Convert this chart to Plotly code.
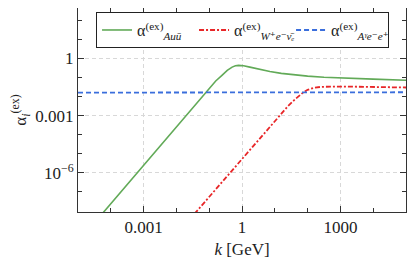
import plotly.graph_objects as go

# ---- data ----
k_green = [5e-5, 1e-3, 1e-2, 0.076, 0.158, 0.245, 0.355, 0.50, 0.63, 0.79, 1.12,
           1.74, 2.82, 4.07, 7.08, 15.8, 39.8, 100, 316, 1000, 1e4, 1e5]
a_green = [6.0e-9, 2.5e-6, 2.5e-4, 0.0158, 0.066, 0.132, 0.24, 0.355, 0.417, 0.437, 0.417,
           0.355, 0.288, 0.251, 0.209, 0.166, 0.138, 0.120, 0.105, 0.0955, 0.083, 0.0724]

k_red = [0.0355, 1, 3.51, 10, 25.1, 40.7, 70.8, 100, 158, 251, 631, 3162, 15849, 1e5]
a_red = [7.1e-9, 5.6e-6, 7.1e-5, 5.2e-4, 3.16e-3, 7.1e-3, 0.0158, 0.0229, 0.0295,
         0.0324, 0.0339, 0.0331, 0.0316, 0.0302]

k_blue = [1e-5, 1, 1e5]
a_blue = [0.0163, 0.0166, 0.0170]

names = ["α<sup>(ex)</sup><sub><i>Auū</i></sub>",
         "α<sup>(ex)</sup><sub><i>W⁺e⁻ν̄ₑ</i></sub>",
         "α<sup>(ex)</sup><sub><i>Aᵞe⁻e⁺</i></sub>"]

x_major = [1e-3, 1, 1e3]
x_major_text = ["0.001", "1", "1000"]
x_minor = [1e-5, 1e-4, 1e-2, 1e-1, 10, 100, 1e4, 1e5]
y_major = [1e-6, 1e-3, 1]
y_major_text = ["10<sup>−6</sup>", "0.001", "1"]
y_minor = [1e-8, 1e-7, 1e-5, 1e-4, 1e-2, 1e-1, 10, 100]

GREEN = "rgb(98,170,88)"
RED = "rgb(232,38,40)"
BLUE = "rgb(58,110,220)"
FONT = "'Liberation Serif', 'Times New Roman', 'DejaVu Serif', serif"

fig = go.Figure()
fig.add_trace(go.Scatter(x=k_green, y=a_green, mode="lines", name=names[0],
                         line=dict(color=GREEN, width=1.6)))
fig.add_trace(go.Scatter(x=k_red, y=a_red, mode="lines", name=names[1],
                         line=dict(color=RED, width=1.8, dash="5px,2px,2px,2px")))
fig.add_trace(go.Scatter(x=k_blue, y=a_blue, mode="lines", name=names[2],
                         line=dict(color=BLUE, width=1.8, dash="5px,3px")))

axis_common = dict(
    type="log", showline=True, linecolor="#333", linewidth=1, mirror="allticks",
    ticks="inside", ticklen=6, tickcolor="#333", tickwidth=1,
    showgrid=True, gridcolor="#d8d8d8", griddash="4px,3px", gridwidth=1,
    zeroline=False, tickmode="array", automargin=False,
    tickfont=dict(family=FONT, size=17, color="#222"),
)

fig.update_xaxes(**axis_common, range=[-5, 5], tickvals=x_major, ticktext=x_major_text,
                 minor=dict(tickmode="array", tickvals=x_minor, ticks="inside", ticklen=4,
                            tickcolor="#333", showgrid=False),
                 title=dict(text="<i>k</i> [GeV]", font=dict(family=FONT, size=17, color="#222"),
                            standoff=6))
fig.update_yaxes(**axis_common, range=[-8.05, 2.65], tickvals=y_major, ticktext=y_major_text,
                 minor=dict(tickmode="array", tickvals=y_minor, ticks="inside", ticklen=4,
                            tickcolor="#333", showgrid=False),
                 title=dict(text="α<sub><i>i</i></sub><sup>(ex)</sup>",
                            font=dict(family=FONT, size=17, color="#222"), standoff=4))

# the page body adds an 8px offset, so the figure is 8px smaller and its origin sits at (8, 8)
fig.update_layout(
    width=407, height=264,
    margin=dict(l=70, r=9, t=0, b=60, autoexpand=False),
    paper_bgcolor="white", plot_bgcolor="white",
    font=dict(family=FONT, size=17, color="#222"),
    showlegend=True,
    legend=dict(orientation="h", x=0.055, y=0.98, xanchor="left", yanchor="top",
                bgcolor="white", bordercolor="#222", borderwidth=1,
                font=dict(family=FONT, size=16, color="#222"),
                itemwidth=30, entrywidth=52, tracegroupgap=0),
)

fig.write_html("out.html")
